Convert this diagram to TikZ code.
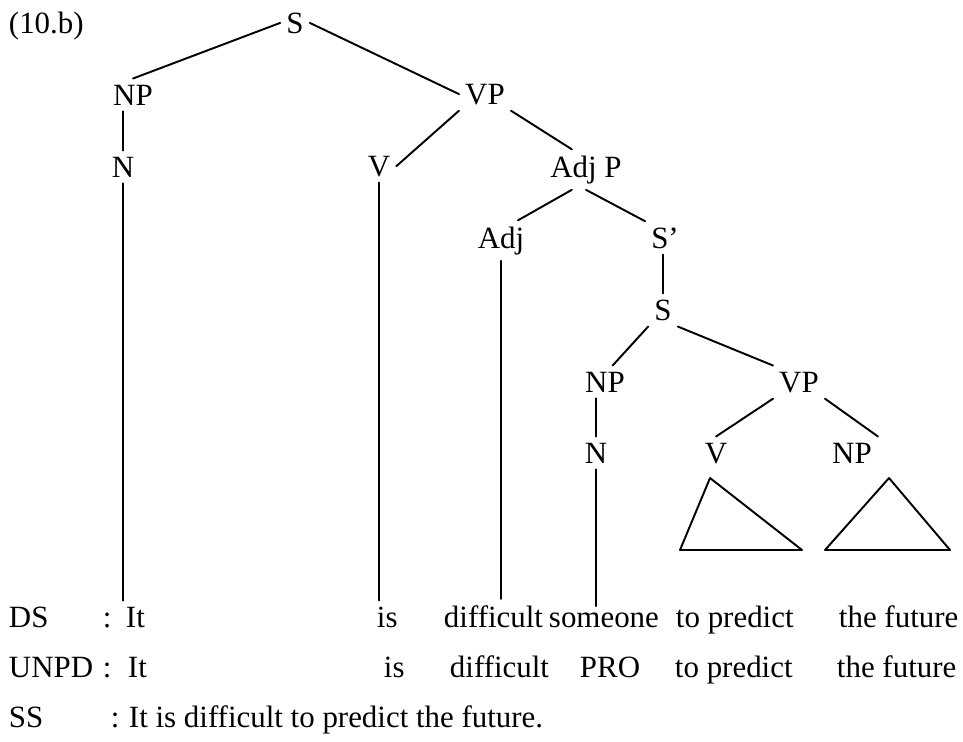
\documentclass[tikz,border=0pt]{standalone}
\usepackage{fontspec}
\setmainfont{Liberation Serif}
\usepackage{tikz}
\tikzset{
  lab/.style={anchor=base, inner sep=3pt},
  wd/.style={anchor=base west, inner xsep=0pt, inner ysep=3pt}
}
\begin{document}
\begin{tikzpicture}[line cap=round,line join=round,x=0.02cm,y=-0.02cm,line width=1.1pt,font=\fontsize{17.6}{21}\selectfont]
\useasboundingbox (0,0) rectangle (963,741);
\node[wd] (ex) at (8,33) {(10.b)};
\node[lab] (s) at (295,33) {S};
\node[lab] (np) at (133,105) {NP};
\node[lab] (vp) at (485,104) {VP};
\node[lab] (n) at (123,177) {N};
\node[lab] (v) at (379,176) {V};
\node[lab] (adjp) at (586,177) {Adj P};
\node[lab] (adj) at (501,248) {Adj};
\node[lab] (sbar) at (665,248) {S’};
\node[lab] (s2) at (663,320) {S};
\node[lab] (np2) at (605,392) {NP};
\node[lab] (vp2) at (799,392) {VP};
\node[lab] (n2) at (596,463) {N};
\node[lab] (v3) at (716,463) {V};
\node[lab] (np3) at (852,463) {NP};
\draw (s.west) -- (np.north);
\draw (s.east) -- (vp.west);
\draw (n.north) -- (n.north |- np.south);
\draw (vp.south west) -- (v.east);
\draw (vp.south east) -- (adjp.125);
\draw (adjp.235) -- (adj.50);
\draw (adjp.south) -- (sbar.north west);
\draw (s2.north) -- (s2.north |- sbar.south);
\draw (s2.south west) -- (np2.65);
\draw (s2.south east) -- (vp2.north west);
\draw (vp2.south west) -- (v3.north);
\draw (vp2.south east) -- (np3.north east);
\draw (n2.north) -- (n2.north |- np2.south);
\draw (710,478) -- (680,550) -- (802,550) -- cycle;
\draw (889,478) -- (825,550) -- (950,550) -- cycle;
\node[wd] (dsA) at (8,627) {DS};
\node[wd] (dsB) at (102,627) {:};
\node[wd] (dsIt) at (125,627) {It};
\node[wd] (dsIs) at (376,627) {is};
\node[wd] (dsDiff) at (443,627) {difficult};
\node[wd] (dsSome) at (548,627) {someone};
\node[wd] (dsPred) at (675,627) {to predict};
\node[wd] (dsFut) at (838,627) {the future};
\node[wd] (unA) at (8,677) {UNPD};
\node[wd] (unB) at (102,677) {:};
\node[wd] (unIt) at (127,677) {It};
\node[wd] (unIs) at (383,677) {is};
\node[wd] (unDiff) at (449,677) {difficult};
\node[wd] (unPro) at (579,677) {PRO};
\node[wd] (unPred) at (674,677) {to predict};
\node[wd] (unFut) at (836,677) {the future};
\node[wd] (ssA) at (8,727) {SS};
\node[wd] (ssB) at (110,727) {:};
\node[wd] (ssTxt) at (128,727) {It is difficult to predict the future.};
\draw (n.south) -- (n.south |- dsIt.north);
\draw (v.south) -- (v.south |- dsIs.north);
\draw (adj.south) -- (adj.south |- dsDiff.north);
\draw (n2.south) -- (n2.south |- dsSome.north);
\end{tikzpicture}
\end{document}
